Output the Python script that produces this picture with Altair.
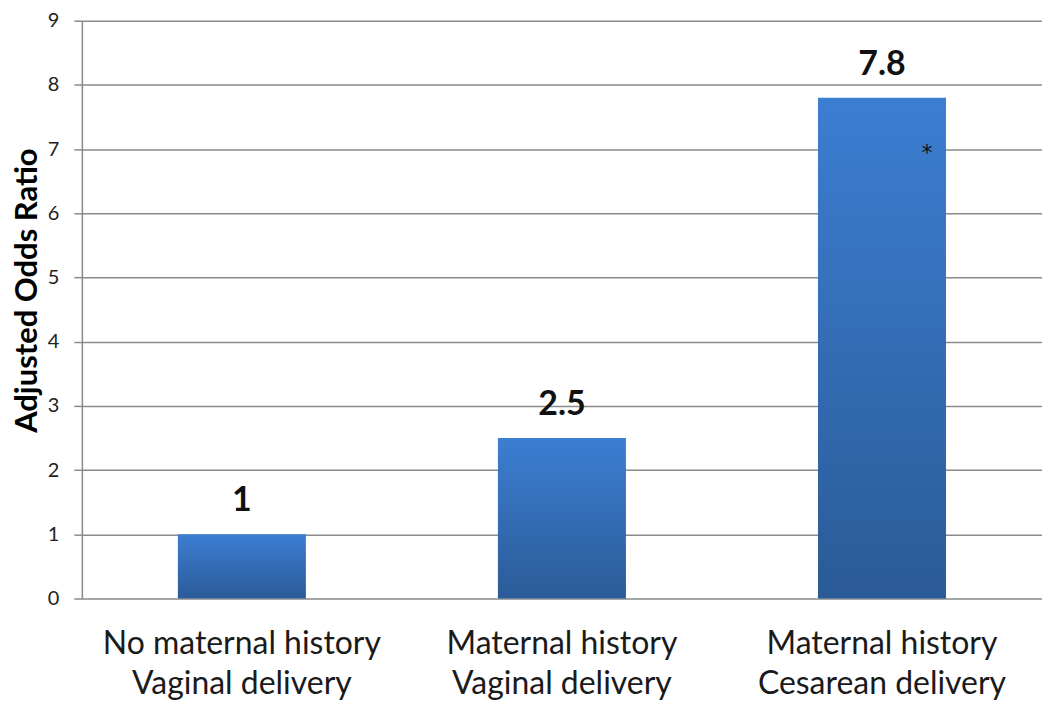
import altair as alt
import pandas as pd

# ---- data ----
categories = [
    "No maternal history|Vaginal delivery",
    "Maternal history|Vaginal delivery",
    "Maternal history|Cesarean delivery",
]
odds_ratios = [1, 2.5, 7.8]
value_labels = ["1", "2.5", "7.8"]
y_ticks = [0, 1, 2, 3, 4, 5, 6, 7, 8, 9]
marker_category = [categories[2]]
marker_value = [7.0]
marker_text = ["*"]

df = pd.DataFrame({"cat": categories, "aor": odds_ratios, "label": value_labels})
mk = pd.DataFrame({"cat": marker_category, "aor": marker_value, "t": marker_text})

FONT = "Lato"
GRID = "#8a8a8a"

x_enc = alt.X(
    "cat:N",
    sort=categories,
    scale=alt.Scale(paddingInner=0.6, paddingOuter=0.3),
    axis=alt.Axis(
        title=None,
        labelExpr="split(datum.label, '|')",
        labelAngle=0,
        labelLimit=0,
        labelFont=FONT,
        labelFontSize=32,
        labelLineHeight=40,
        labelPadding=30,
        labelColor="#1a1a1a",
        ticks=False,
        domain=False,
    ),
)
y_enc = alt.Y(
    "aor:Q",
    scale=alt.Scale(domain=[0, 9], nice=False),
    axis=alt.Axis(
        values=y_ticks,
        format="d",
        title="Adjusted Odds Ratio",
        titleFont=FONT,
        titleFontSize=31,
        titleFontWeight="bold",
        titleColor="#000000",
        titleAngle=-90,
        titleX=-54,
        titleY=270,
        titleBaseline="middle",
        titleAlign="center",
        labelFont=FONT,
        labelFontSize=20,
        labelColor="#222222",
        labelPadding=15,
        tickSize=8,
        tickColor=GRID,
        tickWidth=1.5,
        domainColor=GRID,
        domainWidth=1.5,
        gridColor=GRID,
        gridWidth=1.5,
    ),
)

bars = alt.Chart(df).mark_bar(
    color=alt.Gradient(
        gradient="linear",
        stops=[
            alt.GradientStop(color="#3c7ed2", offset=0),
            alt.GradientStop(color="#2b5b97", offset=1),
        ],
        x1=0, x2=0, y1=0, y2=1,
    )
).encode(x=x_enc, y=y_enc)

labels = alt.Chart(df).mark_text(
    font=FONT, fontSize=34, fontWeight="bold", color="#111111",
    baseline="alphabetic", dy=-23,
).encode(x=alt.X("cat:N", sort=categories), y=alt.Y("aor:Q"), text="label:N")

marker = alt.Chart(mk).mark_text(
    font="DejaVu Sans", fontSize=22, color="#111111", baseline="alphabetic", dx=45, dy=11,
).encode(x=alt.X("cat:N", sort=categories), y=alt.Y("aor:Q"), text="t:N")

chart = (
    alt.layer(bars, labels, marker)
    .properties(
        width=962,
        height=579,
        autosize=alt.AutoSizeParams(type="none"),
        padding={"left": 74, "top": 12, "right": 0, "bottom": 106},
        background="white",
    )
    .configure_view(stroke=None)
)

chart.save("out.html", embed_options={"renderer": "svg", "actions": False})
